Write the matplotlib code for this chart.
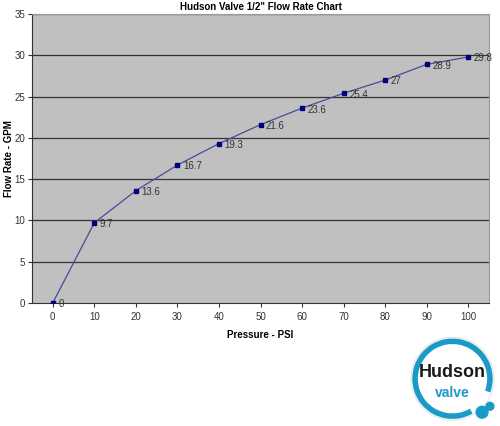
import matplotlib
matplotlib.use("Agg")
import matplotlib.pyplot as plt
from matplotlib.patches import Arc, Circle

pressure = [0, 10, 20, 30, 40, 50, 60, 70, 80, 90, 100]
flow = [0, 9.7, 13.6, 16.7, 19.3, 21.6, 23.6, 25.4, 27, 28.9, 29.8]
labels = ["0", "9.7", "13.6", "16.7", "19.3", "21.6", "23.6", "25.4", "27", "28.9", "29.8"]
yticks = [0, 5, 10, 15, 20, 25, 30, 35]

plt.rcParams["font.family"] = ["Liberation Sans", "DejaVu Sans"]

fig = plt.figure(figsize=(5.0, 4.26), dpi=100)
ax = fig.add_axes([0.064, 0.289, 0.914, 0.678])
ax.set_facecolor("#c0c0c0")

for y in yticks[1:]:
    ax.axhline(y, color="#333333", lw=0.9, zorder=1)

ax.plot(pressure, flow, color="#4a4a9a", lw=0.9, zorder=2)
ax.plot(pressure, flow, ls="none", marker="s", ms=2.6, color="#000080", zorder=3)
for x, y, t in zip(pressure, flow, labels):
    ax.annotate(t, (x, y), xytext=(4, -1), textcoords="offset points",
                va="center", ha="left", fontsize=7, color="#333333", zorder=4)

ax.set_xlim(-5, 105)
ax.set_ylim(0, 35)
ax.set_xticks(pressure)
ax.set_yticks(yticks)
ax.tick_params(labelsize=7, colors="#333333", length=3, width=0.8)
ax.tick_params(axis="y", pad=2)
for s in ("top", "right"):
    ax.spines[s].set_color("#999999")
for s in ("left", "bottom"):
    ax.spines[s].set_color("#333333")

ax.set_title("Hudson Valve 1/2\" Flow Rate Chart", fontsize=7, fontweight="bold", pad=3)
ax.set_xlabel("Pressure - PSI", fontsize=7, fontweight="bold", labelpad=6)
ax.set_ylabel("Flow Rate - GPM", fontsize=7, fontweight="bold")
ax.yaxis.set_label_coords(-0.04, 0.5)

# logo
lax = fig.add_axes([0.81, 0.0, 0.19, 0.222])
lax.set_xlim(-1.2, 1.2)
lax.set_ylim(-1.2, 1.2)
lax.set_aspect("equal")
lax.axis("off")
lax.add_patch(Circle((0, 0), 1.05, color="#e8e8e8", fill=False, lw=1))
lax.add_patch(Arc((0, 0), 1.9, 1.9, theta1=-20, theta2=300, color="#1a9bc7", lw=4))
lax.add_patch(Circle((0.75, -0.85), 0.15, color="#1a9bc7"))
lax.add_patch(Circle((0.95, -0.7), 0.1, color="#1a9bc7"))
lax.text(0, 0.15, "Hudson", ha="center", va="center", fontsize=13, fontweight="bold", color="#1a1a1a")
lax.text(0, -0.35, "valve", ha="center", va="center", fontsize=10, fontweight="bold", color="#1a9bc7")

fig.savefig("out.png", dpi=100)
